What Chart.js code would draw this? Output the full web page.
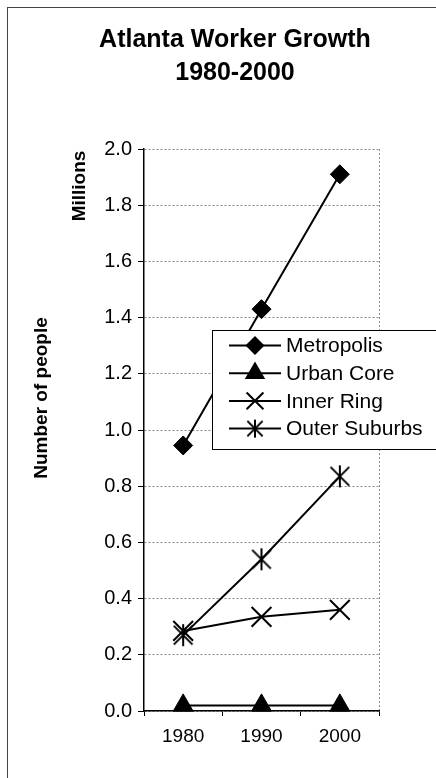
<!DOCTYPE html>
<html>
<head>
<meta charset="utf-8">
<title>Atlanta Worker Growth 1980-2000</title>
<script src="https://cdn.jsdelivr.net/npm/chart.js@4/dist/chart.umd.min.js"></script>
<style>
  html, body { margin: 0; padding: 0; background: #fff; }
  #wrap { width: 436px; height: 778px; }
</style>
</head>
<body>
<div id="wrap"><canvas id="chart" width="436" height="778"></canvas></div>
<script>
// Census years
const years = ['1980', '1990', '2000'];

// Workers, in millions
const metropolis   = [0.945, 1.43, 1.91];
const urbanCore    = [0.02, 0.02, 0.02];
const innerRing    = [0.285, 0.335, 0.36];
const outerSuburbs = [0.27, 0.54, 0.835];

// Value axis labels
const yTickLabels = ['0.0', '0.2', '0.4', '0.6', '0.8', '1.0', '1.2', '1.4', '1.6', '1.8', '2.0'];

const seriesNames = ['Metropolis', 'Urban Core', 'Inner Ring', 'Outer Suburbs'];

const FONT = "'Liberation Sans', Arial, Helvetica, sans-serif";

// Asterisk marker: an X with a vertical stroke through it
function asteriskMarker(size, lw) {
  const c = document.createElement('canvas');
  c.width = size; c.height = size;
  const g = c.getContext('2d');
  const m = size / 2, h = size / 2 - 1;
  g.strokeStyle = '#000';
  g.lineWidth = lw;
  g.beginPath();
  g.moveTo(m - h * 0.85, m - h * 0.85); g.lineTo(m + h * 0.85, m + h * 0.85);
  g.moveTo(m + h * 0.85, m - h * 0.85); g.lineTo(m - h * 0.85, m + h * 0.85);
  g.moveTo(m, 1); g.lineTo(m, size - 1);
  g.stroke();
  return c;
}
const starImg = asteriskMarker(24, 2);
const starLegendImg = asteriskMarker(20, 2);

function series(label, data, style, radius, extra) {
  return Object.assign({
    label: label,
    data: data,
    borderColor: '#000',
    backgroundColor: '#000',
    borderWidth: 2,
    pointStyle: style,
    pointRadius: radius,
    pointHoverRadius: radius,
    pointBackgroundColor: '#000',
    pointBorderColor: '#000',
    pointBorderWidth: 1,
    tension: 0,
    clip: false
  }, extra || {});
}

const datasets = [
  series(seriesNames[0], metropolis, 'rectRot', 9.5),
  series(seriesNames[1], urbanCore, 'triangle', 11.5),
  series(seriesNames[2], innerRing, 'crossRot', 14, { pointBorderWidth: 2 }),
  series(seriesNames[3], outerSuburbs, starImg, 12)
];

// Page frame, axis titles and the boxed legend
const decorations = {
  id: 'decorations',
  beforeDraw(chart) {
    const ctx = chart.ctx;
    ctx.save();
    ctx.fillStyle = '#fff';
    ctx.fillRect(0, 0, chart.width, chart.height);
    ctx.strokeStyle = '#444';
    ctx.lineWidth = 1;
    ctx.strokeRect(7.5, 7.5, chart.width + 20, chart.height + 20);
    ctx.restore();
  },
  afterDraw(chart) {
    const ctx = chart.ctx;
    const area = chart.chartArea;
    ctx.save();
    ctx.fillStyle = '#000';
    ctx.font = 'bold 19px ' + FONT;
    ctx.textAlign = 'center';
    ctx.textBaseline = 'middle';
    // "Number of people"
    ctx.save();
    ctx.translate(area.left - 102, area.top + 249);
    ctx.rotate(-Math.PI / 2);
    ctx.fillText('Number of people', 0, 0);
    ctx.restore();
    // "Millions"
    ctx.save();
    ctx.translate(area.left - 64, area.top + 37);
    ctx.rotate(-Math.PI / 2);
    ctx.fillText('Millions', 0, 0);
    ctx.restore();

    // Legend box
    const lx = area.left + 68, ly = area.top + 181;
    const lw = chart.width, lh = 119;
    ctx.fillStyle = '#fff';
    ctx.fillRect(lx, ly, lw, lh);
    ctx.strokeStyle = '#000';
    ctx.lineWidth = 1;
    ctx.strokeRect(lx + 0.5, ly + 0.5, lw, lh);
    const rowH = 27.7;
    ctx.font = '21px ' + FONT;
    ctx.textAlign = 'left';
    chart.data.datasets.forEach((ds, i) => {
      const cy = ly + 15.5 + i * rowH;
      ctx.strokeStyle = '#000';
      ctx.fillStyle = '#000';
      ctx.lineWidth = 2;
      ctx.beginPath();
      ctx.moveTo(lx + 17, cy);
      ctx.lineTo(lx + 69, cy);
      ctx.stroke();
      Chart.helpers.drawPoint(ctx, {
        pointStyle: i === 3 ? starLegendImg : ds.pointStyle,
        radius: ds.pointRadius * 0.85,
        rotation: 0,
        borderWidth: ds.pointBorderWidth
      }, lx + 43, cy);
      ctx.fillStyle = '#000';
      ctx.fillText(ds.label, lx + 74, cy + 1);
    });
    ctx.restore();
  }
};

new Chart(document.getElementById('chart'), {
  type: 'line',
  data: { labels: years, datasets: datasets },
  plugins: [decorations],
  options: {
    responsive: false,
    animation: false,
    events: [],
    layout: { padding: { left: 91, right: 57, top: 0, bottom: 0 } },
    plugins: {
      legend: { display: false },
      tooltip: { enabled: false },
      title: {
        display: true,
        text: ['Atlanta Worker Growth', '1980-2000'],
        color: '#000',
        font: { family: FONT, size: 25, weight: 'bold', lineHeight: 1.3 },
        padding: { top: 24, bottom: 60 }
      }
    },
    scales: {
      x: {
        type: 'category',
        offset: true,
        afterFit(axis) { axis.height = 67; },
        grid: {
          offset: true,
          drawOnChartArea: true,
          color: c => (c.type === 'scale' ? '#888' : 'rgba(0,0,0,0)'),
          tickColor: '#000',
          tickLength: 5,
          lineWidth: 1
        },
        border: { display: true, color: '#000', width: 1.5, dash: [2, 2] },
        ticks: {
          color: '#000',
          font: { family: FONT, size: 19 },
          padding: 9,
          maxRotation: 0
        }
      },
      y: {
        min: 0,
        max: 2,
        afterFit(axis) { axis.width = 53; },
        grid: {
          color: '#888',
          tickColor: '#000',
          tickLength: 6,
          lineWidth: 1
        },
        border: { display: true, color: '#000', width: 1.5, dash: [2, 2] },
        ticks: {
          stepSize: 0.2,
          color: '#000',
          font: { family: FONT, size: 20 },
          padding: 6,
          callback: (v, i) => yTickLabels[i]
        }
      }
    }
  }
});
</script>
</body>
</html>
